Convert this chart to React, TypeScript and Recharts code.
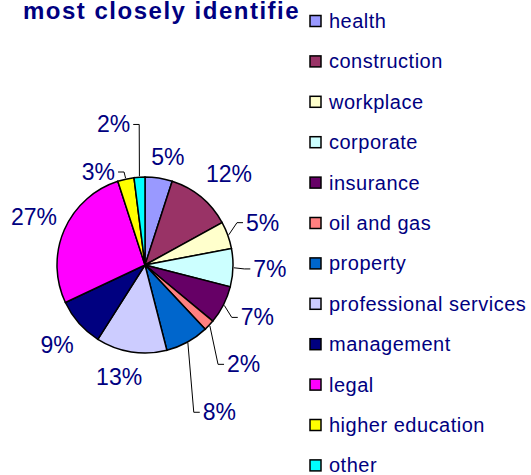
import { PieChart, Pie, Cell, Legend } from 'recharts'

const categories = [
  'health', 'construction', 'workplace', 'corporate', 'insurance', 'oil and gas',
  'property', 'professional services', 'management', 'legal', 'higher education', 'other',
]
const shares = [5, 12, 5, 7, 7, 2, 8, 13, 9, 27, 3, 2]
const colors = [
  '#9999FF', '#993366', '#FFFFCC', '#CCFFFF', '#660066', '#FF8080',
  '#0066CC', '#CCCCFF', '#000080', '#FF00FF', '#FFFF00', '#00FFFF',
]

// label placement: [distance from centre, clockwise nudge in degrees, leader line?]
const labelLayout: [number, number, boolean][] = [
  [110, 3, false], [124, 3, false], [125, 0, true], [125, 0, true],
  [124, -2, true], [140, 2, true], [165, 2, true], [115, 4, false],
  [119, -1, false], [121, 0, false], [104, -14, true], [144, -9, true],
]

const NAVY = '#000080'
const FONT = '"Liberation Sans", Arial, sans-serif'
const LABEL_SIZE = 23
const RAD = Math.PI / 180

const data = categories.map((name, i) => ({ name, value: shares[i] }))

function polar(cx: number, cy: number, r: number, angle: number) {
  return [cx + r * Math.cos(-angle * RAD), cy + r * Math.sin(-angle * RAD)]
}

function renderLabel(props: any) {
  const { cx, cy, midAngle, outerRadius, index } = props
  const [dist, nudge, leader] = labelLayout[index]
  const [x, y] = polar(cx, cy, dist, midAngle - nudge)
  const text = `${shares[index]}%`
  const w = ((text.length - 1) * 0.556 + 0.889) * LABEL_SIZE
  let line = null
  if (leader) {
    const [ex, ey] = polar(cx, cy, outerRadius + 1, midAngle)
    const right = x > cx
    const endX = right ? x - w / 2 - 3 : x + w / 2 + 3
    const elbowX = right ? endX - 6 : endX + 6
    line = (
      <polyline
        points={`${ex},${ey} ${elbowX},${y} ${endX},${y}`}
        fill="none"
        stroke="#000"
        strokeWidth={1}
      />
    )
  }
  return (
    <g key={`lbl-${index}`}>
      {line}
      <text x={x} y={y + 8} textAnchor="middle" fill={NAVY} fontSize={LABEL_SIZE} fontFamily={FONT}>
        {text}
      </text>
    </g>
  )
}

function LegendBox() {
  return (
    <svg width={231} height={475}>
      {categories.map((c, i) => {
        const cy = 21 + i * 40.4
        return (
          <g key={c}>
            <rect x={10} y={cy - 5.5} width={11} height={11} fill={colors[i]} stroke="#000" strokeWidth={1.5} />
            <text x={29} y={cy + 7} fill={NAVY} fontSize={20} fontFamily={FONT} letterSpacing={0.5}>
              {c}
            </text>
          </g>
        )
      })}
    </svg>
  )
}

export default function App() {
  return (
    <div style={{ position: 'absolute', left: 0, top: 0, width: 531, height: 475, background: '#fff' }}>
      <PieChart width={531} height={475} margin={{ top: 0, right: 0, bottom: 0, left: 0 }}>
        <Pie
          data={data}
          dataKey="value"
          nameKey="name"
          cx={145}
          cy={265}
          outerRadius={88}
          startAngle={90}
          endAngle={-270}
          stroke="#000"
          strokeWidth={1.5}
          label={renderLabel}
          labelLine={false}
          isAnimationActive={false}
        >
          {data.map((d, i) => (
            <Cell key={d.name} fill={colors[i]} />
          ))}
        </Pie>
        <Legend
          layout="vertical"
          align="right"
          verticalAlign="top"
          content={() => <LegendBox />}
          wrapperStyle={{ left: 300, top: 0, width: 231, height: 475 }}
        />
      </PieChart>
      <svg width={531} height={40} style={{ position: 'absolute', left: 0, top: 0, pointerEvents: 'none' }}>
        <text x={23} y={19} fill={NAVY} fontSize={24} fontWeight="bold" fontFamily={FONT} letterSpacing={1.5}>
          most closely identifie
        </text>
      </svg>
    </div>
  )
}
